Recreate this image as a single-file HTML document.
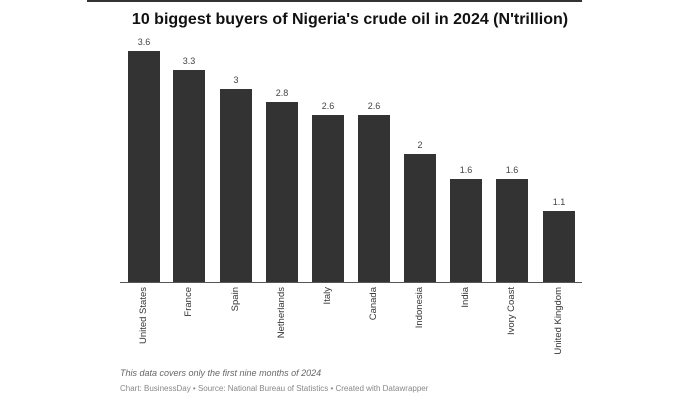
<!DOCTYPE html>
<html><head><style>
body{margin:0;width:700px;height:400px;background:#fff;position:relative;overflow:hidden;font-family:"Liberation Sans",sans-serif}
.topbar{position:absolute;left:87px;top:0;width:495px;height:2px;background:#333}
.title{position:absolute;left:0;width:700px;top:11px;text-align:center;font-size:16px;font-weight:bold;color:#111}
.bar{position:absolute;width:32px;background:#333;bottom:118px}
.val{position:absolute;width:50px;text-align:center;font-size:9px;color:#444}
.lab{position:absolute;top:287px;font-size:9.5px;color:#333;writing-mode:vertical-rl;transform:rotate(180deg);white-space:nowrap}
.axis{position:absolute;left:120px;width:462px;top:282px;height:1px;background:#555}
.note{position:absolute;left:120px;top:368px;font-size:9px;font-style:italic;color:#666}
.src{position:absolute;left:120px;top:384px;font-size:8px;color:#888}
</style></head><body>
<div class="topbar"></div>
<div class="title">10 biggest buyers of Nigeria's crude oil in 2024 (N'trillion)</div>
<div id="c"></div>
<div class="axis"></div>
<div class="note">This data covers only the first nine months of 2024</div>
<div class="src">Chart: BusinessDay • Source: National Bureau of Statistics • Created with Datawrapper</div>
<script>
var d=[["United States",3.6],["France",3.3],["Spain",3],["Netherlands",2.8],["Italy",2.6],["Canada",2.6],["Indonesia",2],["India",1.6],["Ivory Coast",1.6],["United Kingdom",1.1]];
var cs=[144,189,236,282,328,374,420,466,512,559],h="";
d.forEach(function(e,i){var ht=e[1]*64.2,t=282-ht;
h+='<div class="bar" style="left:'+(cs[i]-16)+'px;height:'+ht+'px"></div>';
h+='<div class="val" style="left:'+(cs[i]-25)+'px;top:'+(t-14)+'px">'+e[1]+'</div>';
h+='<div class="lab" style="left:'+(cs[i]-6)+'px">'+e[0]+'</div>';});
document.getElementById("c").innerHTML=h;
</script>
</body></html>
